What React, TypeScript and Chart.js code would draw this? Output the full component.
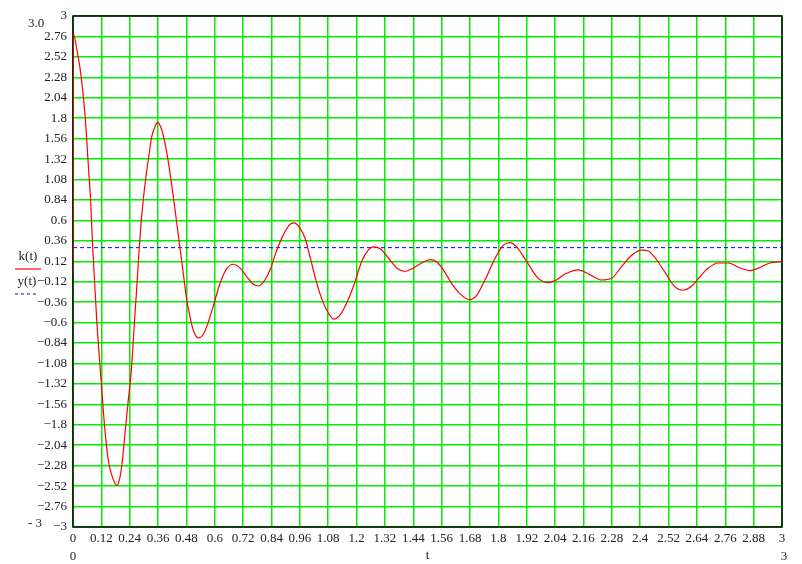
import React, { useEffect, useRef } from "react";
import { Chart, registerables } from "chart.js";

Chart.register(...registerables);

const T_VALUES = [
  0, 0.001, 0.016, 0.034, 0.051, 0.065, 0.075, 0.083, 0.089, 0.1, 0.114, 0.124, 0.135, 0.149, 0.164, 0.178, 0.185,
  0.192, 0.206, 0.22, 0.234, 0.248, 0.258, 0.269, 0.279, 0.289, 0.298, 0.309, 0.322, 0.333, 0.347, 0.358, 0.372,
  0.389, 0.406, 0.424, 0.446, 0.467, 0.481, 0.495, 0.509, 0.53, 0.551, 0.572, 0.594, 0.622, 0.65, 0.678, 0.707,
  0.735, 0.763, 0.784, 0.812, 0.834, 0.862, 0.89, 0.917, 0.936, 0.96, 0.982, 1.003, 1.024, 1.045, 1.073, 1.104,
  1.13, 1.158, 1.186, 1.221, 1.249, 1.271, 1.299, 1.341, 1.37, 1.405, 1.44, 1.475, 1.511, 1.539, 1.567, 1.602,
  1.637, 1.677, 1.708, 1.743, 1.786, 1.821, 1.849, 1.877, 1.92, 1.962, 2.004, 2.039, 2.082, 2.138, 2.188, 2.237,
  2.279, 2.322, 2.364, 2.406, 2.434, 2.47, 2.512, 2.547, 2.582, 2.618, 2.653, 2.688, 2.73, 2.773, 2.815, 2.865,
  2.9, 2.949, 2.992, 3.0,
];

const K_VALUES = [
  0, 2.8, 2.61, 2.3, 1.83, 1.24, 0.81, 0.3, 0.0, -0.55, -1.1, -1.47, -1.86, -2.21, -2.39, -2.49, -2.51,
  -2.49, -2.29, -1.9, -1.51, -1.12, -0.68, -0.22, 0.22, 0.6, 0.86, 1.12, 1.38, 1.58, 1.7, 1.75, 1.69,
  1.51, 1.24, 0.89, 0.42, -0.03, -0.33, -0.53, -0.69, -0.78, -0.74, -0.6, -0.4, -0.14, 0.03, 0.085, 0.04,
  -0.06, -0.15, -0.17, -0.1, 0.02, 0.25, 0.43, 0.55, 0.57, 0.51, 0.39, 0.17, -0.06, -0.26, -0.45, -0.56,
  -0.51, -0.37, -0.18, 0.115, 0.25, 0.29, 0.27, 0.135, 0.04, 0.0, 0.04, 0.1, 0.14, 0.115, 0.02, -0.14,
  -0.26, -0.33, -0.28, -0.1, 0.155, 0.31, 0.34, 0.29, 0.115, -0.06, -0.13, -0.11, -0.03, 0.02, -0.04, -0.1,
  -0.08, 0.06, 0.19, 0.25, 0.24, 0.135, -0.04, -0.18, -0.22, -0.17, -0.06, 0.04, 0.1, 0.1, 0.05, 0.01,
  0.04, 0.1, 0.115, 0.12,
];

const Y_LEVEL = 0.28;

const X_TICKS = [
  0, 0.12, 0.24, 0.36, 0.48, 0.6, 0.72, 0.84, 0.96, 1.08, 1.2, 1.32, 1.44, 1.56, 1.68, 1.8, 1.92, 2.04, 2.16,
  2.28, 2.4, 2.52, 2.64, 2.76, 2.88, 3,
];
const X_LABELS = [
  "0", "0.12", "0.24", "0.36", "0.48", "0.6", "0.72", "0.84", "0.96", "1.08", "1.2", "1.32", "1.44", "1.56",
  "1.68", "1.8", "1.92", "2.04", "2.16", "2.28", "2.4", "2.52", "2.64", "2.76", "2.88", "3",
];

const Y_TICKS = [
  3, 2.76, 2.52, 2.28, 2.04, 1.8, 1.56, 1.32, 1.08, 0.84, 0.6, 0.36, 0.12, -0.12, -0.36, -0.6, -0.84, -1.08,
  -1.32, -1.56, -1.8, -2.04, -2.28, -2.52, -2.76, -3,
];
const Y_LABELS = [
  "3", "2.76", "2.52", "2.28", "2.04", "1.8", "1.56", "1.32", "1.08", "0.84", "0.6", "0.36", "0.12", "\u22120.12",
  "\u22120.36", "\u22120.6", "\u22120.84", "\u22121.08", "\u22121.32", "\u22121.56", "\u22121.8", "\u22122.04",
  "\u22122.28", "\u22122.52", "\u22122.76", "\u22123",
];

const FONT_FAMILY = '"Liberation Serif", "Times New Roman", serif';
const TEXT_COLOR = "#222";
const GRID_COLOR = "#00ee00";

const extrasPlugin = {
  id: "extras",
  beforeDatasetsDraw(chart: any) {
    const { ctx, chartArea } = chart;
    ctx.save();
    ctx.strokeStyle = "#000";
    ctx.lineWidth = 1.5;
    ctx.strokeRect(chartArea.left, chartArea.top, chartArea.right - chartArea.left, chartArea.bottom - chartArea.top);
    ctx.restore();
  },
  afterDraw(chart: any) {
    const { ctx, chartArea } = chart;
    ctx.save();
    ctx.font = "13px " + FONT_FAMILY;
    ctx.fillStyle = TEXT_COLOR;
    ctx.textAlign = "center";
    ctx.textBaseline = "middle";
    ctx.fillText("3.0", 36, 24);
    ctx.fillText("- 3", 35, 524);
    ctx.fillText("k(t)", 28, 257);
    ctx.fillText("y(t)", 27, 282);
    ctx.fillText("0", chartArea.left, 557);
    ctx.fillText("t", (chartArea.left + chartArea.right) / 2, 556);
    ctx.fillText("3", chartArea.right + 2, 557);

    ctx.strokeStyle = "#ff0000";
    ctx.lineWidth = 1.2;
    ctx.beginPath();
    ctx.moveTo(15, 269);
    ctx.lineTo(41, 269);
    ctx.stroke();

    ctx.strokeStyle = "#0000ff";
    ctx.lineWidth = 1;
    ctx.setLineDash([3, 3]);
    ctx.beginPath();
    ctx.moveTo(15, 294);
    ctx.lineTo(37, 294);
    ctx.stroke();
    ctx.restore();
  },
};

export default function App() {
  const ref = useRef<HTMLCanvasElement | null>(null);

  useEffect(() => {
    if (!ref.current) return;
    const kData = T_VALUES.map((t, i) => ({ x: t, y: K_VALUES[i] }));
    const yData = [
      { x: X_TICKS[0], y: Y_LEVEL },
      { x: X_TICKS[X_TICKS.length - 1], y: Y_LEVEL },
    ];
    const chart = new Chart(ref.current, {
      type: "line",
      data: {
        datasets: [
          {
            label: "k(t)",
            data: kData,
            borderColor: "#ff0000",
            borderWidth: 1.2,
            pointRadius: 0,
            fill: false,
            cubicInterpolationMode: "monotone",
          },
          {
            label: "y(t)",
            data: yData,
            borderColor: "#0000ff",
            borderWidth: 1,
            borderDash: [4, 3],
            pointRadius: 0,
            fill: false,
          },
        ],
      },
      options: {
        animation: false,
        responsive: false,
        devicePixelRatio: 1,
        layout: { padding: { left: 0, top: 16, right: 20, bottom: 0 } },
        plugins: { legend: { display: false }, tooltip: { enabled: false } },
        scales: {
          x: {
            type: "linear",
            min: 0,
            max: 3,
            afterBuildTicks: (scale: any) => {
              scale.ticks = X_TICKS.map((v) => ({ value: v }));
            },
            afterFit: (scale: any) => {
              scale.height = 37;
            },
            grid: { color: GRID_COLOR, lineWidth: 1.5, drawTicks: false },
            border: { display: false },
            ticks: {
              autoSkip: false,
              maxRotation: 0,
              padding: 4,
              color: TEXT_COLOR,
              font: { family: FONT_FAMILY, size: 13 },
              callback: (_v: any, i: number) => X_LABELS[i],
            },
          },
          y: {
            type: "linear",
            min: -3,
            max: 3,
            afterBuildTicks: (scale: any) => {
              scale.ticks = Y_TICKS.slice().reverse().map((v) => ({ value: v }));
            },
            afterFit: (scale: any) => {
              scale.width = 73;
            },
            grid: { color: GRID_COLOR, lineWidth: 1.5, drawTicks: false },
            border: { display: false },
            ticks: {
              autoSkip: false,
              padding: 6,
              color: TEXT_COLOR,
              font: { family: FONT_FAMILY, size: 13 },
              callback: (v: any) => {
                const idx = Y_TICKS.findIndex((t) => Math.abs(t - v) < 1e-6);
                return idx >= 0 ? Y_LABELS[idx] : "";
              },
            },
          },
        },
      },
      plugins: [extrasPlugin],
    });
    return () => chart.destroy();
  }, []);

  return (
    <div style={{ position: "absolute", left: 0, top: 0, width: 802, height: 564, background: "#fff" }}>
      <canvas ref={ref} width={802} height={564} />
    </div>
  );
}
